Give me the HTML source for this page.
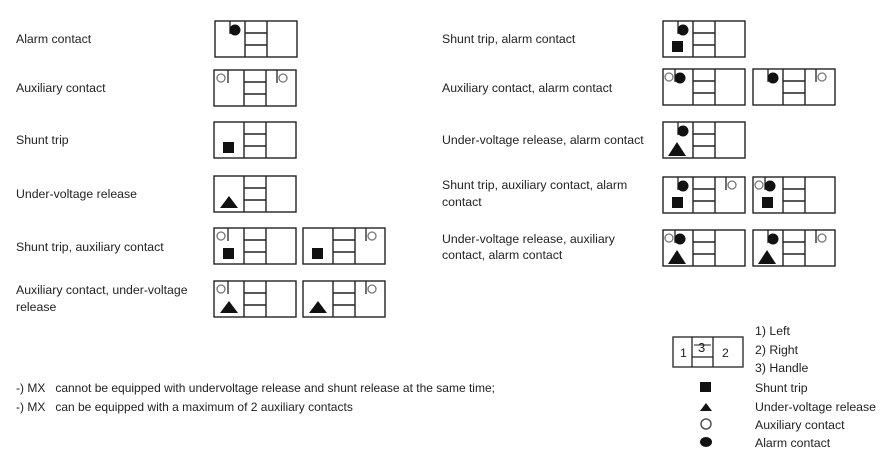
<!DOCTYPE html>
<html><head><meta charset="utf-8"><style>
body{margin:0;background:#fff;width:885px;height:460px;overflow:hidden}
svg text{font-family:"Liberation Sans",sans-serif;font-size:12.3px;fill:#222}
</style></head><body>
<svg width="885" height="460" xmlns="http://www.w3.org/2000/svg">
<defs>
<g id="b" fill="none" stroke="#222" stroke-width="1.4">
<rect x="0" y="0" width="82" height="36"/>
<line x1="30" y1="0" x2="30" y2="36"/><line x1="52" y1="0" x2="52" y2="36"/>
<line x1="30" y1="12" x2="52" y2="12"/><line x1="30" y1="24" x2="52" y2="24"/>
</g>
<g id="al"><line x1="15" y1="0" x2="15" y2="13" stroke="#222" stroke-width="1.3"/><circle cx="20" cy="9" r="5.5" fill="#111"/></g>
<g id="axl"><circle cx="7" cy="8" r="4" fill="none" stroke="#777" stroke-width="1.3"/><line x1="14" y1="0" x2="14" y2="13" stroke="#222" stroke-width="1.3"/></g>
<g id="axr"><line x1="63" y1="0" x2="63" y2="13" stroke="#222" stroke-width="1.3"/><circle cx="69" cy="8" r="4" fill="none" stroke="#777" stroke-width="1.3"/></g>
<g id="axal"><circle cx="6" cy="8" r="4" fill="none" stroke="#777" stroke-width="1.3"/><line x1="12" y1="0" x2="12" y2="13" stroke="#222" stroke-width="1.3"/><circle cx="17" cy="9" r="5.5" fill="#111"/></g>
<rect id="sq" x="9" y="20" width="11" height="11" fill="#111"/>
<polygon id="tr" points="6,32 15,20 24,32" fill="#111"/>
<polygon id="tr2" points="5,34 14,20 23,34" fill="#111"/>
</defs>

<text x="16" y="43">Alarm contact</text>
<g transform="translate(215,21)"><use href="#b"/><use href="#al"/></g>
<text x="16" y="92">Auxiliary contact</text>
<g transform="translate(214,70)"><use href="#b"/><use href="#axl"/><use href="#axr"/></g>
<text x="16" y="144">Shunt trip</text>
<g transform="translate(214,122)"><use href="#b"/><use href="#sq"/></g>
<text x="16" y="198">Under-voltage release</text>
<g transform="translate(214,176)"><use href="#b"/><use href="#tr"/></g>
<text x="16" y="251">Shunt trip, auxiliary contact</text>
<g transform="translate(214,228)"><use href="#b"/><use href="#axl"/><use href="#sq"/></g>
<g transform="translate(303,228)"><use href="#b"/><use href="#sq"/><use href="#axr"/></g>
<text x="16" y="294">Auxiliary contact, under-voltage</text>
<text x="16" y="311">release</text>
<g transform="translate(214,281)"><use href="#b"/><use href="#axl"/><use href="#tr"/></g>
<g transform="translate(303,281)"><use href="#b"/><use href="#tr"/><use href="#axr"/></g>

<text x="442" y="43">Shunt trip, alarm contact</text>
<g transform="translate(663,21)"><use href="#b"/><use href="#al"/><use href="#sq"/></g>
<text x="442" y="92">Auxiliary contact, alarm contact</text>
<g transform="translate(663,69)"><use href="#b"/><use href="#axal"/></g>
<g transform="translate(753,69)"><use href="#b"/><use href="#al"/><use href="#axr"/></g>
<text x="442" y="144">Under-voltage release, alarm contact</text>
<g transform="translate(663,122)"><use href="#b"/><use href="#al"/><use href="#tr2"/></g>
<text x="442" y="189">Shunt trip, auxiliary contact, alarm</text>
<text x="442" y="206">contact</text>
<g transform="translate(663,177)"><use href="#b"/><use href="#al"/><use href="#sq"/><use href="#axr"/></g>
<g transform="translate(753,177)"><use href="#b"/><use href="#axal"/><use href="#sq"/></g>
<text x="442" y="243">Under-voltage release, auxiliary</text>
<text x="442" y="259">contact, alarm contact</text>
<g transform="translate(663,230)"><use href="#b"/><use href="#axal"/><use href="#tr2"/></g>
<g transform="translate(753,230)"><use href="#b"/><use href="#al"/><use href="#tr2"/><use href="#axr"/></g>

<text x="16" y="392" style="font-size:12px">-) MX &#160;&#160;cannot be equipped with undervoltage release and shunt release at the same time;</text>
<text x="16" y="411" style="font-size:12px">-) MX &#160;&#160;can be equipped with a maximum of 2 auxiliary contacts</text>

<g fill="none" stroke="#222" stroke-width="1.3">
<rect x="673" y="337" width="70" height="30"/>
<line x1="692" y1="337" x2="692" y2="367"/><line x1="713" y1="337" x2="713" y2="367"/>
<line x1="692" y1="357" x2="713" y2="357"/>
</g>
<text x="680" y="357">1</text>
<text x="698" y="352" style="font-size:13px">3</text>
<line x1="694" y1="345" x2="711" y2="345" stroke="#222" stroke-width="1"/>
<text x="722" y="357">2</text>
<text x="755" y="335">1) Left</text>
<text x="755" y="354">2) Right</text>
<text x="755" y="372">3) Handle</text>
<rect x="700" y="382" width="11" height="10" fill="#111"/>
<text x="755" y="392">Shunt trip</text>
<polygon points="700,411 706,403 712,411" fill="#111"/>
<text x="755" y="411">Under-voltage release</text>
<circle cx="706" cy="424" r="5" fill="none" stroke="#555" stroke-width="1.5"/>
<text x="755" y="429">Auxiliary contact</text>
<ellipse cx="706" cy="442" rx="6" ry="5" fill="#111"/>
<text x="755" y="447">Alarm contact</text>
</svg>
</body></html>
